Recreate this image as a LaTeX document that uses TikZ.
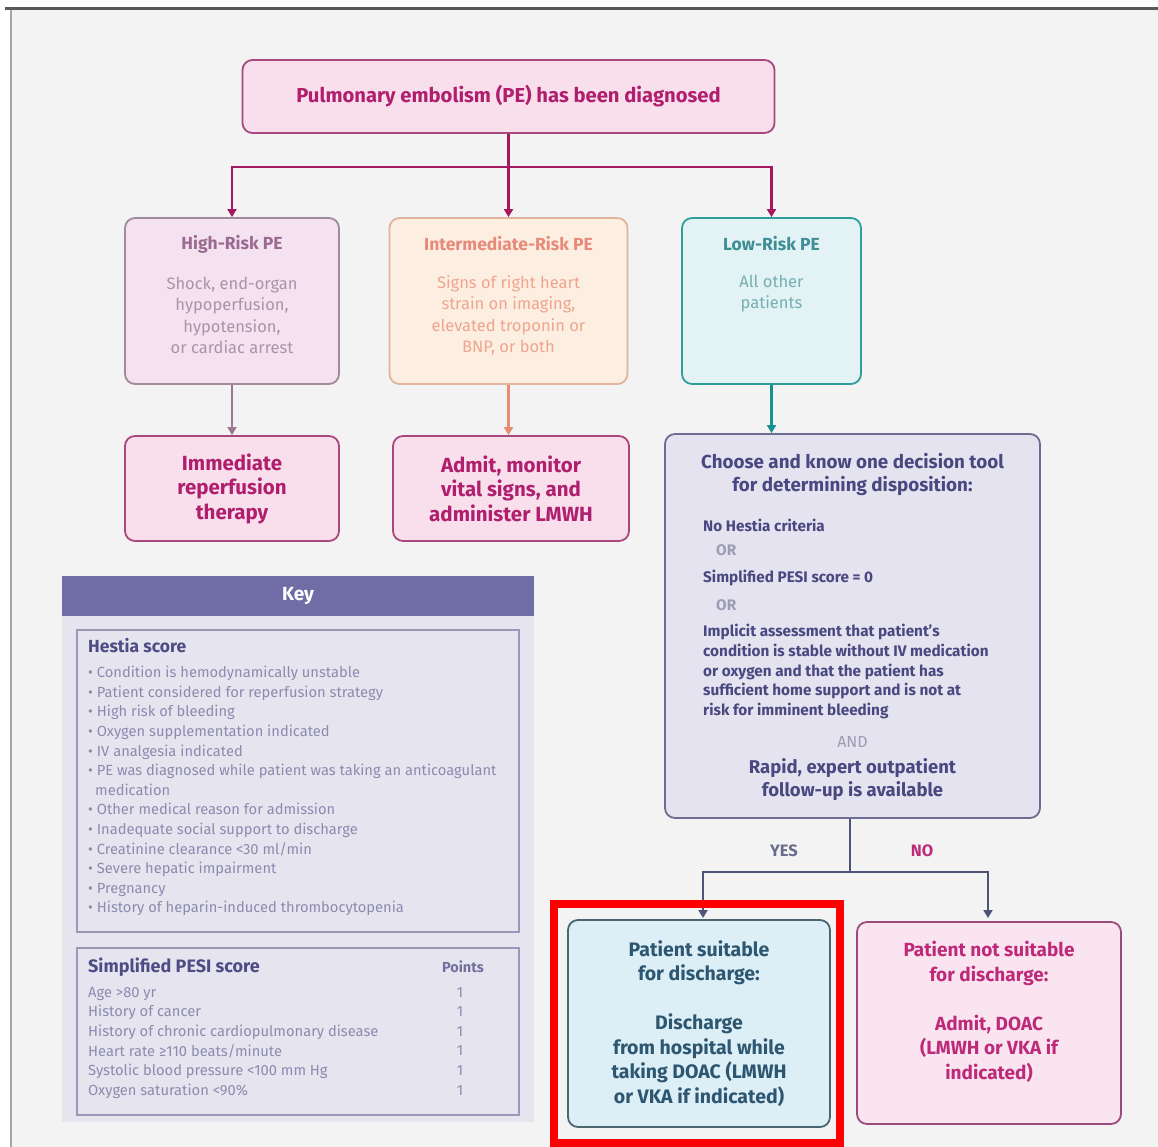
\documentclass[tikz,border=0pt]{standalone}
\usepackage{fontspec}
\setmainfont{Fira Sans}
\usetikzlibrary{arrows.meta}
\definecolor{bgc}{HTML}{F3F3F3}
\definecolor{mag}{HTML}{B01E6E}
\definecolor{magline}{HTML}{A3185F}
\definecolor{pinkfill}{HTML}{F9DFEC}
\definecolor{pinkborder}{HTML}{A8487E}
\definecolor{hifill}{HTML}{F4E2F0}
\definecolor{hiborder}{HTML}{A08A9C}
\definecolor{hititle}{HTML}{9A6A90}
\definecolor{hibody}{HTML}{A894A6}
\definecolor{hiarrow}{HTML}{9A7A92}
\definecolor{infill}{HTML}{FCEFE2}
\definecolor{inborder}{HTML}{E2B49E}
\definecolor{intitle}{HTML}{E8897A}
\definecolor{inbody}{HTML}{F0A48E}
\definecolor{inarrow}{HTML}{E88B70}
\definecolor{lofill}{HTML}{E3F2F5}
\definecolor{loborder}{HTML}{2E9E9C}
\definecolor{lotitle}{HTML}{3E8E96}
\definecolor{lobody}{HTML}{72B0B2}
\definecolor{loarrow}{HTML}{17918F}
\definecolor{chfill}{HTML}{E4E3EF}
\definecolor{chborder}{HTML}{6E6C92}
\definecolor{chtext}{HTML}{4A4880}
\definecolor{chgray}{HTML}{9C9CB2}
\definecolor{ynline}{HTML}{4E5478}
\definecolor{yestext}{HTML}{6A6C8C}
\definecolor{sufill}{HTML}{DCEEF6}
\definecolor{suborder}{HTML}{4A6670}
\definecolor{sutext}{HTML}{2D5670}
\definecolor{nsfill}{HTML}{FAE4EF}
\definecolor{nsborder}{HTML}{9C4A7C}
\definecolor{nstext}{HTML}{BE2A7A}
\definecolor{keyhead}{HTML}{6F6CA6}
\definecolor{keyfill}{HTML}{E6E5EF}
\definecolor{keyborder}{HTML}{9A98B6}
\definecolor{keytitle}{HTML}{4E4C84}
\definecolor{keyitem}{HTML}{8C8AAE}
\begin{document}
\begin{tikzpicture}[x=1pt,y=-1pt,
  box/.style={rounded corners=10pt, line width=1.8pt, align=center, inner sep=0pt},
  conn/.style={line width=2.8pt},
  tip/.style={-{Triangle[width=9pt,length=8pt]}},
  bigb/.style={font=\fontsize{20.5}{24.5}\selectfont\bfseries, align=center},
  titleb/.style={font=\fontsize{17.5}{21.5}\selectfont\bfseries, align=center},
  bodyr/.style={font=\fontsize{16.5}{21.5}\selectfont, align=center},
  smallb/.style={font=\fontsize{15.3}{19.7}\selectfont\bfseries, align=left, inner sep=0pt},
  keyi/.style={font=\fontsize{14.7}{19.6}\selectfont, align=left, inner sep=0pt, text=keyitem}
]
\useasboundingbox (0,0) rectangle (1158,1147);
% frame and background
\fill[white] (0,0) rectangle (1158,1147);
\fill[bgc] (11,9) rectangle (1158,1147);
\draw[line width=2.5pt, color=black!35] (11,9) -- (11,1147);
\draw[line width=3pt, color=black!65] (5,8.5) -- (1158,8.5);

% top
\node[box, draw=pinkborder, fill=pinkfill, minimum width=532pt, minimum height=73pt, text=mag, font=\fontsize{20.2}{24}\selectfont\bfseries] (pe) at (508.5,96.5) {Pulmonary embolism (PE) has been diagnosed};

% risk boxes
\node[box, draw=hiborder, fill=hifill, minimum width=214pt, minimum height=166pt] (high) at (232,301) {};
\node[titleb, text=hititle] (hiT) at (232,244) {High-Risk PE};
\node[bodyr, text=hibody] (hiB) at (232,315.5) {Shock, end-organ\\hypoperfusion,\\hypotension,\\or cardiac arrest};

\node[box, draw=inborder, fill=infill, minimum width=238pt, minimum height=166pt] (inter) at (508.5,301) {};
\node[titleb, text=intitle] (inT) at (508.5,244) {Intermediate-Risk PE};
\node[bodyr, text=inbody] (inB) at (508.5,315.5) {Signs of right heart\\strain on imaging,\\elevated troponin or\\BNP, or both};

\node[box, draw=loborder, fill=lofill, minimum width=179pt, minimum height=166pt] (low) at (771.5,301) {};
\node[titleb, text=lotitle] (loT) at (771.5,244) {Low-Risk PE};
\node[bodyr, text=lobody] (loB) at (771.5,293.5) {All other\\patients};

% top connectors
\coordinate (j1) at (508.5,167);
\draw[conn, magline] (pe.south) -- (j1);
\draw[conn, magline, tip] (j1) -- (inter.north);
\draw[conn, magline, tip] (j1) -| (high.north);
\draw[conn, magline, tip] (j1) -| (low.north);

% second row
\node[box, draw=pinkborder, fill=pinkfill, minimum width=214pt, minimum height=105pt, text=mag, bigb] (imm) at (232,488.5) {Immediate\\reperfusion\\therapy};
\node[box, draw=pinkborder, fill=pinkfill, minimum width=236pt, minimum height=105pt, text=mag, bigb] (adm) at (511,488.5) {Admit, monitor\\vital signs, and\\administer LMWH};

\draw[conn, hiarrow, tip] (high.south) -- (imm.north);
\draw[conn, inarrow, tip] (inter.south) -- (inter.south |- adm.north);

% choose box
\node[box, draw=chborder, fill=chfill, minimum width=375pt, minimum height=384pt] (cho) at (852.5,626) {};
\draw[conn, loarrow, tip] (low.south) -- (low.south |- cho.north);
\node[font=\fontsize{18.8}{23}\selectfont\bfseries, align=center, text=chtext] (choT) at (852.5,474.5) {Choose and know one decision tool\\for determining disposition:};
\node[smallb, text=chtext, anchor=west] (c1) at (703,525) {No Hestia criteria};
\node[smallb, text=chgray, anchor=west] (or1) at (716,550) {OR};
\node[smallb, text=chtext, anchor=west] (c2) at (703,578) {Simplified PESI score = 0};
\node[smallb, text=chgray, anchor=west] (or2) at (716,605) {OR};
\node[smallb, text=chtext, anchor=north west] (c3) at (703,624) {Implicit assessment that patient’s\\condition is stable without IV medication\\or oxygen and that the patient has\\sufficient home support and is not at\\risk for imminent bleeding};
\node[font=\fontsize{16}{18}\selectfont, text=chgray] (and) at (852.5,742) {AND};
\node[font=\fontsize{18.5}{23}\selectfont\bfseries, align=center, text=chtext] (rap) at (852.5,779.5) {Rapid, expert outpatient\\follow-up is available};

% outcomes
\node[box, draw=suborder, fill=sufill, minimum width=262pt, minimum height=207pt, text=sutext, font=\fontsize{19.5}{24.5}\selectfont\bfseries] (suit) at (699,1023.5) {Patient suitable\\for discharge:\\[24.5pt]Discharge\\from hospital while\\taking DOAC (LMWH\\or VKA if indicated)};
\node[box, draw=nsborder, fill=nsfill, minimum width=264pt, minimum height=202pt] (nsuit) at (989,1023) {};
\node[font=\fontsize{19}{24.5}\selectfont\bfseries, align=center, text=nstext] (nsT) at (989,1012) {Patient not suitable\\for discharge:\\[24.5pt]Admit, DOAC\\(LMWH or VKA if\\indicated)};

\coordinate (j2) at (850,872);
\draw[conn, ynline] (cho.south -| j2) -- (j2);
\draw[conn, ynline, tip] (j2) -| (703,918);
\draw[conn, ynline, tip] (j2) -| (988,918);
\node[font=\fontsize{16.5}{18}\selectfont\bfseries, text=yestext] (yes) at (784,851) {YES};
\node[font=\fontsize{16.5}{18}\selectfont\bfseries, text=nstext] (no) at (922,851) {NO};

% highlight
\node[draw=red, line width=7.5pt, minimum width=286pt, minimum height=239pt, inner sep=0pt] (hl) at (697,1023.5) {};

% key
\fill[keyfill] (62,616) rectangle (534,1122);
\node[fill=keyhead, minimum width=472pt, minimum height=40pt, inner sep=0pt, text=white, font=\fontsize{19}{22}\selectfont\bfseries] (keyh) at (298,596) {Key};
\node[draw=keyborder, line width=1.5pt, fill=keyfill, minimum width=442pt, minimum height=302pt, inner sep=0pt] (hbox) at (298,781) {};
\node[draw=keyborder, line width=1.5pt, fill=keyfill, minimum width=442pt, minimum height=167pt, inner sep=0pt] (pbox) at (298,1031.5) {};
\node[font=\fontsize{17.5}{20}\selectfont\bfseries, text=keytitle, anchor=west, inner sep=0pt] (hT) at (88,646) {Hestia score};
\node[keyi, anchor=north west] (hI) at (88,666) {• Condition is hemodynamically unstable\\
• Patient considered for reperfusion strategy\\
• High risk of bleeding\\
• Oxygen supplementation indicated\\
• IV analgesia indicated\\
• PE was diagnosed while patient was taking an anticoagulant\\
\hspace*{7pt}medication\\
• Other medical reason for admission\\
• Inadequate social support to discharge\\
• Creatinine clearance <30 ml/min\\
• Severe hepatic impairment\\
• Pregnancy\\
• History of heparin-induced thrombocytopenia};
\node[font=\fontsize{18}{20}\selectfont\bfseries, text=keytitle, anchor=west, inner sep=0pt] (pT) at (88,967) {Simplified PESI score};
\node[font=\fontsize{14.5}{18}\selectfont\bfseries, text=keytitle!80, inner sep=0pt] (pP) at (463,967) {Points};
\node[keyi, anchor=north west] (pI) at (88,987) {Age >80 yr\\History of cancer\\History of chronic cardiopulmonary disease\\Heart rate ≥110 beats/minute\\Systolic blood pressure <100 mm Hg\\Oxygen saturation <90\%};
\node[keyi, anchor=north, align=center] (pN) at (460,987) {1\\1\\1\\1\\1\\1};
\end{tikzpicture}
\end{document}
